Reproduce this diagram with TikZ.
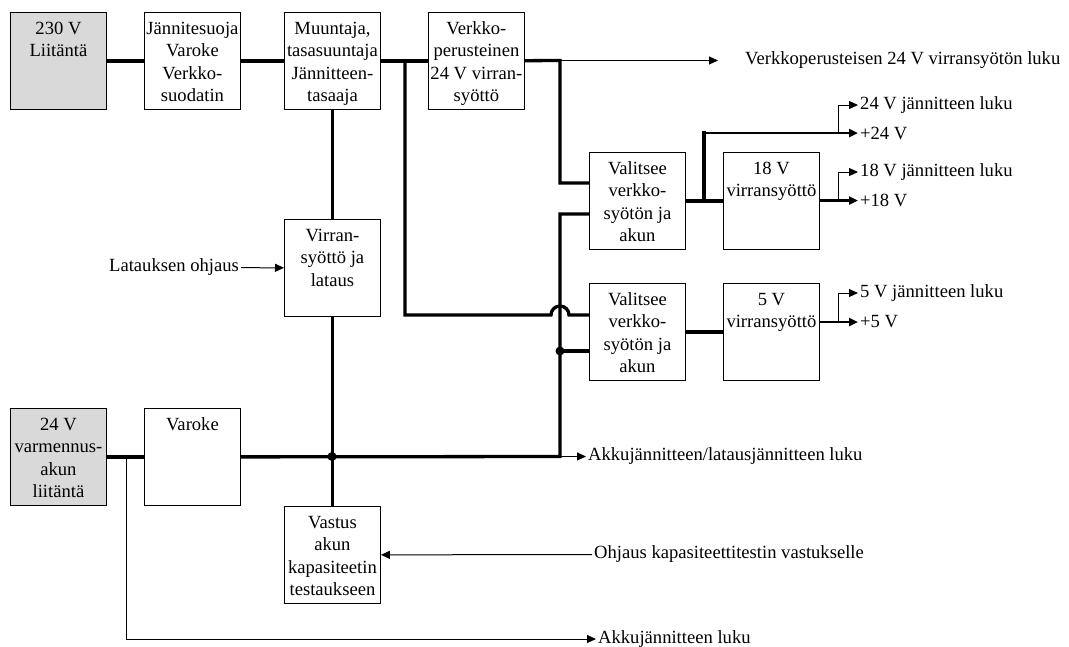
\documentclass[tikz,border=0pt]{standalone}
\usepackage{fontspec}
\setmainfont{Liberation Serif}
\usetikzlibrary{arrows.meta}
\definecolor{boxgray}{HTML}{D9D9D9}
\newcommand{\bxt}[1]{\parbox[c][97pt][t]{96pt}{\centering\hyphenpenalty=10000\rule{0pt}{22pt}#1}}
\tikzset{
  bx/.style={draw, line width=0.9pt, inner sep=0pt, anchor=north west},
  gbx/.style={bx, fill=boxgray},
  thk/.style={line width=3.3pt},
  med/.style={line width=2.3pt},
  thn/.style={line width=1pt},
  arr/.style={-{Triangle[length=9pt,width=8pt]}},
  lbl/.style={inner sep=2pt},
}
\begin{document}
\begin{tikzpicture}[x=1pt,y=-1pt,font=\fontsize{18.6}{22.5}\selectfont]
\useasboundingbox (0,0) rectangle (1069,646);
% boxes
\node[gbx] (b230) at (10,12) {\bxt{230 V\\Liitäntä}};
\node[bx] (bJS) at (144,12) {\bxt{Jännitesuoja\\Varoke\\Verkko-\\suodatin}};
\node[bx] (bMu) at (284,12) {\bxt{Muuntaja,\\tasasuuntaja\\Jännitteen-\\tasaaja}};
\node[bx] (bVe) at (428,12) {\bxt{Verkko-\\perusteinen\\24 V virran-\\syöttö}};
\node[bx] (bVa1) at (589,152) {\bxt{Valitsee\\verkko-\\syötön ja\\akun}};
\node[bx] (b18) at (723,152) {\bxt{18 V\\virransyöttö}};
\node[bx] (bVa2) at (589,283) {\bxt{Valitsee\\verkko-\\syötön ja\\akun}};
\node[bx] (b5) at (723,283) {\bxt{5 V\\virransyöttö}};
\node[bx] (bVi) at (284,219) {\bxt{Virran-\\syöttö ja\\lataus}};
\node[gbx] (b24) at (10,408) {\bxt{24 V\\varmennus-\\akun\\liitäntä}};
\node[bx] (bVar) at (144,408) {\bxt{Varoke}};
\node[bx] (bVs) at (284,506) {\bxt{Vastus\\akun\\kapasiteetin\\testaukseen}};
% labels
\node[lbl,anchor=west] (t1) at (743,60.5) {Verkkoperusteisen 24 V virransyötön luku};
\node[lbl,anchor=west] (t24j) at (858,105) {24 V jännitteen luku};
\node[lbl,anchor=west] (t24p) at (858,133) {+24 V};
\node[lbl,anchor=west] (t18j) at (858,172) {18 V jännitteen luku};
\node[lbl,anchor=west] (t18p) at (858,200.5) {+18 V};
\node[lbl,anchor=west] (t5j) at (858,293) {5 V jännitteen luku};
\node[lbl,anchor=west] (t5p) at (858,322) {+5 V};
\node[lbl,anchor=west] (tAL) at (586,456.5) {Akkujännitteen/latausjännitteen luku};
\node[lbl,anchor=west] (tOh) at (592,554.5) {Ohjaus kapasiteettitestin vastukselle};
\node[lbl,anchor=west] (tAk) at (596,639) {Akkujännitteen luku};
\node[lbl,anchor=east] (tLa) at (241,267.5) {Latauksen ohjaus};
% coordinates
\coordinate (j1) at (405,60.5);
\coordinate (c1) at (560,60.5);
\coordinate (a1) at (718,60.5);
\coordinate (hopL) at (551,315);
\coordinate (j2) at (704,200.5);
\coordinate (j2u) at (704,133);
\coordinate (br1) at (838,133);
\coordinate (br2) at (838,200.5);
\coordinate (br3) at (838,322);
\coordinate (c2) at (560,456.5);
\coordinate (d1) at (560,351);
\coordinate (d2) at (332,456.5);
\coordinate (c3) at (126,456.5);
% thick power lines
\draw[thk] (b230) -- (bJS);
\draw[thk] (bJS) -- (bMu);
\draw[thk] (bMu) -- (bVe);
\draw[thk] (bVe) -- (c1) |- (bVa1.west |- 0,183);
\draw[thk] (j1) |- (hopL) arc[start angle=180,end angle=0,radius=9pt] -- (bVa2.west |- 0,315);
\draw[thk] (bVa1) -- (b18);
\draw[thk,line cap=rect] (j2) -- (j2u);
\draw[thk] (bVa2) -- (b5);
\draw[thk] (b24) -- (bVar);
\draw[thk] (bVar) -- (c2) |- (bVa1.west |- 0,214);
\draw[thk] (d1) -- (bVa2.west |- d1);
\draw[thk] (bMu) -- (bVi);
\draw[thk] (bVi) -- (bVs);
\fill (d1) circle[radius=4.5pt];
\fill (d2) circle[radius=4.5pt];
% outputs
\draw[thn,arr] (c1) -- (a1);
\draw[med,arr] (j2u) -- (t24p.west);
\draw[thn,arr] (br1) |- (t24j.west);
\draw[med,arr] (b18.east |- br2) -- (t18p.west);
\draw[thn,arr] (br2) |- (t18j.west);
\draw[med,arr] (b5.east |- br3) -- (t5p.west);
\draw[thn,arr] (br3) |- (t5j.west);
\draw[thn,arr] (c2) -- (tAL.west);
\draw[thn,arr] (c3) |- (tAk.west);
\draw[thn,arr] (tOh.west) -- (bVs);
\draw[thn,arr] (tLa) -- (bVi);
\end{tikzpicture}
\end{document}
